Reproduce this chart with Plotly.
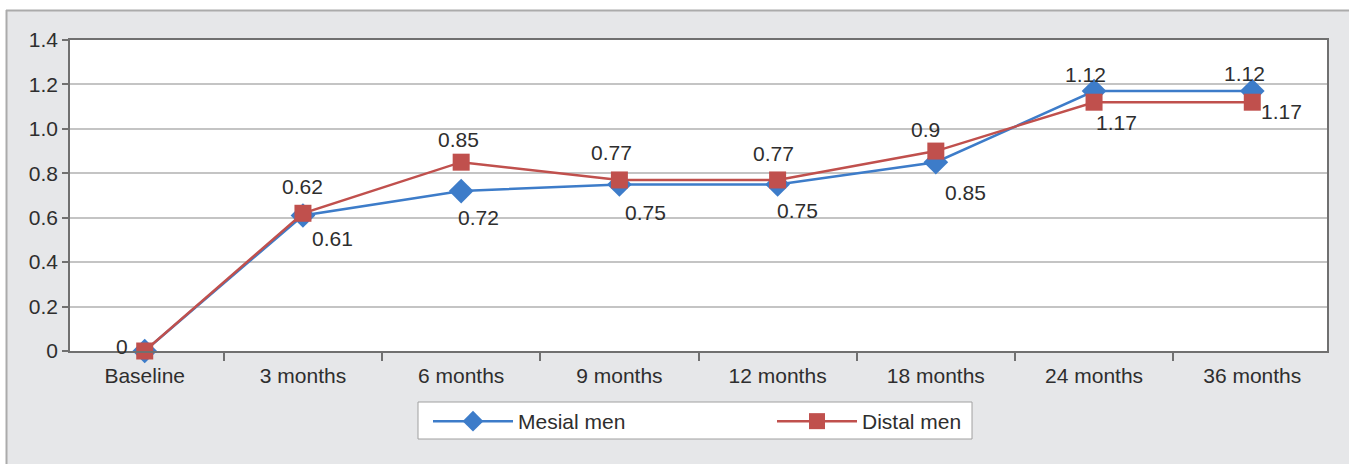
import plotly.graph_objects as go

# Follow-up time points
categories = ["Baseline", "3 months", "6 months", "9 months", "12 months",
              "18 months", "24 months", "36 months"]

# Mean values per group
mesial_men = [0, 0.61, 0.72, 0.75, 0.75, 0.85, 1.17, 1.17]
distal_men = [0, 0.62, 0.85, 0.77, 0.77, 0.9, 1.12, 1.12]

y_tick_vals = [0, 0.2, 0.4, 0.6, 0.8, 1.0, 1.2, 1.4]
y_tick_text = ["0", "0.2", "0.4", "0.6", "0.8", "1.0", "1.2", "1.4"]

BLUE = "#3D7CC9"
RED = "#C0504D"
PANEL = "#E6E7E9"
TEXT = "#2E2E2E"
FONT = "Liberation Sans, Arial, sans-serif"

W, H = 1349, 464
ML, MR, MT, MB = 70, 22, 40, 113
plot_w = W - ML - MR
plot_h = H - MT - MB


def px_x(p):
    return (p - ML) / plot_w


def px_y(p):
    return (H - MB - p) / plot_h


# value-label offsets (pixels) relative to each marker
mesial_label_dx = [None, 30, 17, 26, 20, 30, 22, 29]
mesial_label_dy = [None, -23, -26, -28, -26, -30, -31, -20]
distal_label_dx = [-23, 0, -3, -8, -4, -10, -9, -8]
distal_label_dy = [5, 27, 23, 27, 26, 22, 28, 29]

fig = go.Figure()
fig.add_trace(go.Scatter(
    x=categories, y=mesial_men, name="Mesial men",
    mode="lines+markers",
    line=dict(color=BLUE, width=2.5),
    marker=dict(symbol="diamond", size=19, color=BLUE),
    cliponaxis=False,
))
fig.add_trace(go.Scatter(
    x=categories, y=distal_men, name="Distal men",
    mode="lines+markers",
    line=dict(color=RED, width=2.5),
    marker=dict(symbol="square", size=17, color=RED),
    cliponaxis=False,
))

annotations = []
for cat, v, dx, dy in zip(categories, mesial_men, mesial_label_dx, mesial_label_dy):
    if dx is None:
        continue
    annotations.append(dict(x=cat, y=v, xref="x", yref="y", text=f"{v:g}",
                            showarrow=False, xshift=dx, yshift=dy,
                            font=dict(size=21, color=TEXT, family=FONT)))
for cat, v, dx, dy in zip(categories, distal_men, distal_label_dx, distal_label_dy):
    annotations.append(dict(x=cat, y=v, xref="x", yref="y", text=f"{v:g}",
                            showarrow=False, xshift=dx, yshift=dy,
                            font=dict(size=21, color=TEXT, family=FONT)))

shapes = [
    # white strips outside the grey panel
    dict(type="rect", xref="paper", yref="paper", layer="below",
         x0=px_x(-20), x1=px_x(6), y0=px_y(H + 20), y1=px_y(-20),
         fillcolor="white", line=dict(width=0)),
    dict(type="rect", xref="paper", yref="paper", layer="below",
         x0=px_x(-20), x1=px_x(W + 20), y0=px_y(10), y1=px_y(-20),
         fillcolor="white", line=dict(width=0)),
    # panel border
    dict(type="line", xref="paper", yref="paper",
         x0=px_x(6), x1=px_x(W + 20), y0=px_y(10.5), y1=px_y(10.5),
         line=dict(color="#ABABAB", width=2)),
    dict(type="line", xref="paper", yref="paper",
         x0=px_x(6.5), x1=px_x(6.5), y0=px_y(10), y1=px_y(H + 20),
         line=dict(color="#ABABAB", width=2)),
    # legend box
    dict(type="rect", xref="paper", yref="paper", layer="above",
         x0=px_x(418), x1=px_x(972), y0=px_y(439), y1=px_y(402),
         fillcolor="white", line=dict(color="#A0A0A0", width=1)),
]

fig.update_layout(
    width=W, height=H,
    margin=dict(l=ML, r=MR, t=MT, b=MB),
    paper_bgcolor=PANEL,
    plot_bgcolor="white",
    font=dict(family=FONT, size=21, color=TEXT),
    shapes=shapes,
    annotations=annotations,
    showlegend=True,
    legend=dict(
        orientation="h",
        x=px_x(428), xanchor="left",
        y=px_y(401), yanchor="top",
        bgcolor="rgba(0,0,0,0)", borderwidth=0,
        font=dict(size=21, color=TEXT, family=FONT),
        entrywidth=249, entrywidthmode="pixels",
        itemwidth=80,
    ),
    xaxis=dict(
        type="category",
        showgrid=False,
        showline=True, linecolor="#707070", linewidth=1.5, mirror=True,
        ticks="outside", tickson="boundaries", ticklen=8,
        tickcolor="#707070", tickwidth=1.5,
        tickfont=dict(size=21, color=TEXT),
        ticklabelstandoff=5,
        fixedrange=True,
    ),
    yaxis=dict(
        range=[0, 1.4],
        tickvals=y_tick_vals, ticktext=y_tick_text,
        showgrid=True, gridcolor="#C4C4C4", gridwidth=1.5,
        showline=True, linecolor="#707070", linewidth=1.5, mirror=True,
        ticks="outside", ticklen=6, tickcolor="#707070", tickwidth=1.5,
        tickfont=dict(size=21, color=TEXT),
        zeroline=False,
        fixedrange=True,
    ),
)

fig.write_html("out.html")
